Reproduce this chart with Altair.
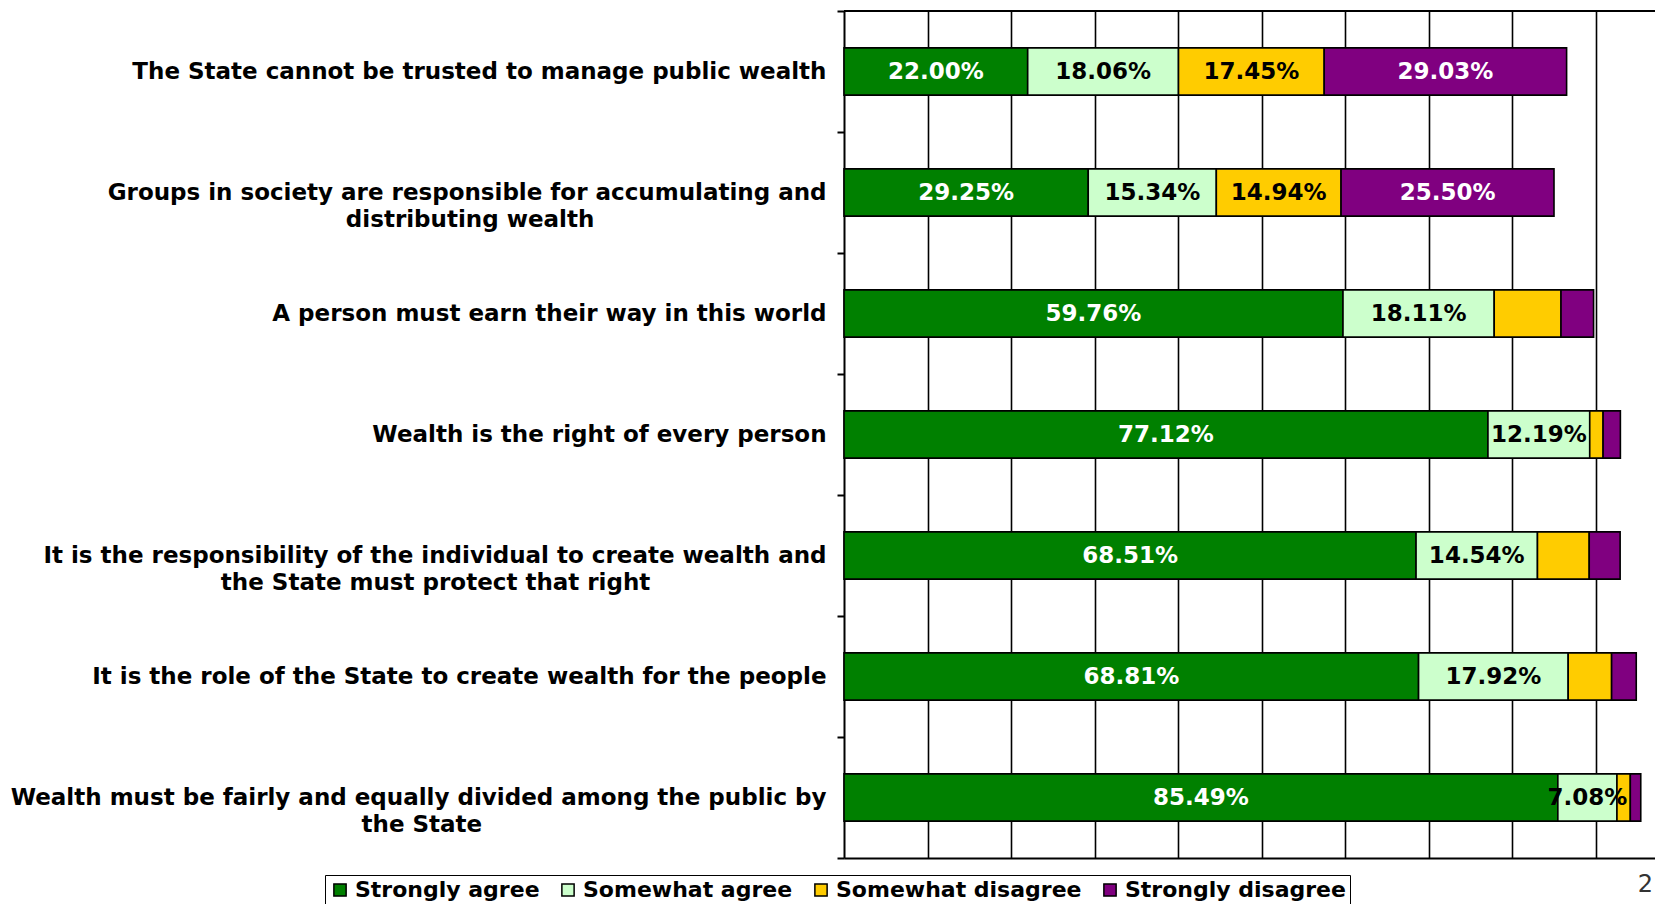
import altair as alt
import pandas as pd

statements = [
    "The State cannot be trusted to manage public wealth",
    "Groups in society are responsible for accumulating and distributing wealth",
    "A person must earn their way in this world",
    "Wealth is the right of every person",
    "It is the responsibility of the individual to create wealth and the State must protect that right",
    "It is the role of the State to create wealth for the people",
    "Wealth must be fairly and equally divided among the public by the State",
]
# how the long statements wrap on the axis
wrapped = {
    statements[1]: ["Groups in society are responsible for accumulating and", "distributing wealth"],
    statements[4]: ["It is the responsibility of the individual to create wealth and", "the State must protect that right"],
    statements[6]: ["Wealth must be fairly and equally divided among the public by", "the State"],
}
categories = ["Strongly agree", "Somewhat agree", "Somewhat disagree", "Strongly disagree"]
bar_colors = ["#008000", "#CCFFCC", "#FFCC00", "#800080"]
text_colors = ["#FFFFFF", "#000000", "#000000", "#FFFFFF"]

strongly_agree = [22.00, 29.25, 59.76, 77.12, 68.51, 68.81, 85.49]
somewhat_agree = [18.06, 15.34, 18.11, 12.19, 14.54, 17.92, 7.08]
somewhat_disagree = [17.45, 14.94, 8.0, 1.6, 6.2, 5.2, 1.6]
strongly_disagree = [29.03, 25.50, 3.9, 2.07, 3.7, 2.95, 1.25]
# which segments carry a printed value (per statement, per category)
labeled = [
    [True, True, True, True],
    [True, True, True, True],
    [True, True, False, False],
    [True, True, False, False],
    [True, True, False, False],
    [True, True, False, False],
    [True, True, False, False],
]

series = [strongly_agree, somewhat_agree, somewhat_disagree, strongly_disagree]
rows = []
for i, s in enumerate(statements):
    for j, c in enumerate(categories):
        v = series[j][i]
        rows.append({
            "statement": s,
            "category": c,
            "order": j,
            "value": v,
            "label": f"{v:.2f}%",
            "show": labeled[i][j],
            "tcolor": text_colors[j],
        })
df = pd.DataFrame(rows)

PAD_L, PAD_T = 836, 3
PLOT_W, PLOT_H = 811, 847
TOTAL_H = 896
XMAX = PLOT_W / 8.35

FONT = "DejaVu Sans"
NBSP = "\u00a0"
ZWSP = "\u200b"

# approximate advance widths (em) of DejaVu Sans Bold, used only to centre the
# second line of a wrapped label under the first one
_W = {" ": .348, "a": .675, "b": .716, "c": .593, "d": .716, "e": .678, "f": .435,
      "g": .716, "h": .712, "i": .343, "j": .343, "k": .665, "l": .343, "m": 1.042,
      "n": .712, "o": .687, "p": .716, "q": .716, "r": .493, "s": .595, "t": .478,
      "u": .712, "v": .652, "w": .924, "x": .649, "y": .652, "z": .582,
      "G": .821, "I": .372, "S": .720, "T": .684, "W": 1.103}


def _width(t):
    return sum(_W.get(ch, .7) for ch in t)


def _js(t):
    return "'" + t.replace("'", "\\'") + "'"


expr = "isValid(datum.value) ? datum.value : ''"
for full, (l1, l2) in wrapped.items():
    n = max(0, round((_width(l1) - _width(l2)) / 2 / _W[" "]))
    expr = f"datum.value == {_js(full)} ? [{_js(l1)}, {_js(l2 + NBSP * n + ZWSP)}] : ({expr})"
label_expr = expr

base = alt.Chart(df).transform_stack(
    stack="value",
    groupby=["statement"],
    sort=[alt.SortField("order")],
    as_=["x0", "x1"],
)

y_enc = alt.Y(
    "statement:N",
    sort=statements,
    scale=alt.Scale(paddingInner=0, paddingOuter=0),
    axis=alt.Axis(
        title=None,
        labelExpr=label_expr,
        labelFont=FONT,
        labelFontWeight="bold",
        labelFontSize=23,
        labelColor="#000000",
        labelLineHeight=27,
        labelPadding=11,
        labelLimit=900,
        tickSize=7,
        tickWidth=2,
        tickColor="#000000",
        tickBand="extent",
        domainColor="#000000",
        domainWidth=2,
        grid=False,
    ),
)

x_scale = alt.Scale(domain=[0, XMAX], nice=False, zero=True)

bars = base.mark_bar(
    height=alt.RelativeBandSize(0.39),
    stroke="#000000",
    strokeWidth=1.6,
).encode(
    y=y_enc,
    x=alt.X(
        "x0:Q",
        scale=x_scale,
        axis=alt.Axis(
            title=None,
            labels=False,
            ticks=False,
            values=[10, 20, 30, 40, 50, 60, 70, 80, 90],
            grid=True,
            gridColor="#000000",
            gridWidth=1.6,
            gridOpacity=1,
            domainColor="#000000",
            domainWidth=2,
        ),
    ),
    x2="x1:Q",
    color=alt.Color(
        "category:N",
        scale=alt.Scale(domain=categories, range=bar_colors),
        legend=alt.Legend(
            title=None,
            orient="none",
            direction="horizontal",
            legendX=-519,
            legendY=864,
            symbolType="square",
            symbolSize=150,
            symbolStrokeColor="#000000",
            symbolStrokeWidth=1.5,
            labelFont=FONT,
            labelFontWeight="bold",
            labelFontSize=22,
            labelColor="#000000",
            labelLimit=400,
            labelOffset=4,
            columnPadding=17,
            padding=4,
            strokeColor="#000000",
            fillColor="#FFFFFF",
        ),
    ),
)

texts = base.transform_calculate(
    mid="(datum.x0 + datum.x1) / 2"
).transform_filter(
    "datum.show"
).mark_text(
    font=FONT, fontWeight="bold", fontSize=23, align="center", baseline="middle"
).encode(
    y=alt.Y("statement:N", sort=statements),
    x=alt.X("mid:Q", scale=x_scale),
    text="label:N",
    color=alt.Color("tcolor:N", scale=None),
)

top_line = alt.Chart(pd.DataFrame({"k": [0]})).mark_rule(
    color="#000000", strokeWidth=2
).encode(x=alt.value(0), x2=alt.value(PLOT_W + 10), y=alt.value(0))

page_num = alt.Chart(pd.DataFrame({"t": ["2"]})).mark_text(
    font=FONT, fontSize=24, fontWeight="normal", align="right", baseline="top", color="#333333"
).encode(text="t:N", x=alt.value(PLOT_W - 2), y=alt.value(862))

chart = alt.layer(bars, texts, top_line, page_num).properties(
    width=PLOT_W,
    height=PLOT_H,
    autosize=alt.AutoSizeParams(type="none"),
    padding={"left": PAD_L, "top": PAD_T, "right": 0, "bottom": TOTAL_H - PAD_T - PLOT_H},
).configure_view(stroke=None).configure(background="#FFFFFF")

chart.save("out.html", embed_options={"renderer": "svg", "actions": False})
